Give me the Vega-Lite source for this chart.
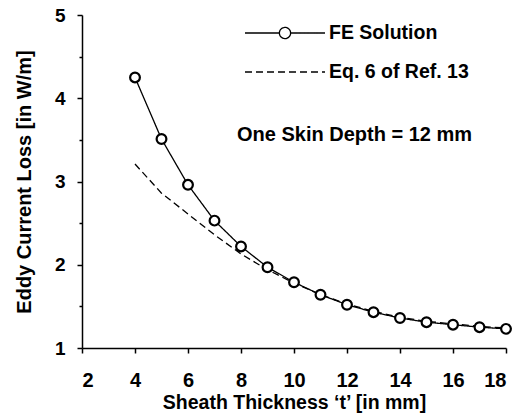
{
  "$schema": "https://vega.github.io/schema/vega-lite/v6.json",
  "width": 424,
  "height": 333,
  "autosize": {"type": "none"},
  "padding": {"left": 82, "top": 15, "right": 23, "bottom": 69},
  "background": "white",
  "config": {
    "view": {"stroke": null},
    "font": "Liberation Sans",
    "axis": {
      "domainColor": "black",
      "tickColor": "black",
      "labelColor": "black",
      "titleColor": "black",
      "grid": false,
      "labelFont": "Liberation Sans",
      "titleFont": "Liberation Sans",
      "labelFontWeight": "bold",
      "titleFontWeight": "bold",
      "domainWidth": 1.5,
      "tickWidth": 1.5
    }
  },
  "data": {
    "values": [
      {"t": 4, "loss": 4.25, "series": "FE Solution"},
      {"t": 5, "loss": 3.51, "series": "FE Solution"},
      {"t": 6, "loss": 2.96, "series": "FE Solution"},
      {"t": 7, "loss": 2.53, "series": "FE Solution"},
      {"t": 8, "loss": 2.22, "series": "FE Solution"},
      {"t": 9, "loss": 1.97, "series": "FE Solution"},
      {"t": 10, "loss": 1.79, "series": "FE Solution"},
      {"t": 11, "loss": 1.64, "series": "FE Solution"},
      {"t": 12, "loss": 1.52, "series": "FE Solution"},
      {"t": 13, "loss": 1.43, "series": "FE Solution"},
      {"t": 14, "loss": 1.36, "series": "FE Solution"},
      {"t": 15, "loss": 1.31, "series": "FE Solution"},
      {"t": 16, "loss": 1.28, "series": "FE Solution"},
      {"t": 17, "loss": 1.25, "series": "FE Solution"},
      {"t": 18, "loss": 1.23, "series": "FE Solution"},
      {"t": 4, "loss": 3.21, "series": "Eq. 6 of Ref. 13"},
      {"t": 5, "loss": 2.86, "series": "Eq. 6 of Ref. 13"},
      {"t": 6, "loss": 2.61, "series": "Eq. 6 of Ref. 13"},
      {"t": 7, "loss": 2.36, "series": "Eq. 6 of Ref. 13"},
      {"t": 8, "loss": 2.13, "series": "Eq. 6 of Ref. 13"},
      {"t": 9, "loss": 1.94, "series": "Eq. 6 of Ref. 13"},
      {"t": 10, "loss": 1.78, "series": "Eq. 6 of Ref. 13"},
      {"t": 11, "loss": 1.64, "series": "Eq. 6 of Ref. 13"},
      {"t": 12, "loss": 1.53, "series": "Eq. 6 of Ref. 13"},
      {"t": 13, "loss": 1.44, "series": "Eq. 6 of Ref. 13"},
      {"t": 14, "loss": 1.37, "series": "Eq. 6 of Ref. 13"},
      {"t": 15, "loss": 1.32, "series": "Eq. 6 of Ref. 13"},
      {"t": 16, "loss": 1.29, "series": "Eq. 6 of Ref. 13"},
      {"t": 17, "loss": 1.26, "series": "Eq. 6 of Ref. 13"},
      {"t": 18, "loss": 1.24, "series": "Eq. 6 of Ref. 13"}
    ]
  },
  "encoding": {
    "x": {
      "field": "t",
      "type": "quantitative",
      "scale": {"domain": [2, 18], "nice": false, "zero": false},
      "axis": {
        "title": "Sheath Thickness ‘t’ [in mm]",
        "values": [2, 4, 6, 8, 10, 12, 14, 16, 18],
        "tickSize": 5,
        "labelFontSize": 20,
        "titleFontSize": 19.5,
        "labelPadding": 17,
        "titlePadding": 3
      }
    },
    "y": {
      "field": "loss",
      "type": "quantitative",
      "scale": {"domain": [1, 5], "nice": false, "zero": false},
      "axis": {
        "title": "Eddy Current Loss [in W/m]",
        "values": [1, 1.5, 2, 2.5, 3, 3.5, 4, 4.5, 5],
        "labelExpr": "datum.value % 1 === 0 ? format(datum.value, 'd') : ''",
        "tickSize": {"condition": {"test": "datum.value % 1 !== 0", "value": 3}, "value": 5},
        "labelFontSize": 19,
        "titleFontSize": 20,
        "labelPadding": 12,
        "titlePadding": 20
      }
    }
  },
  "layer": [
    {
      "mark": {"type": "line", "color": "black"},
      "encoding": {
        "strokeDash": {
          "field": "series",
          "type": "nominal",
          "scale": {"domain": ["FE Solution", "Eq. 6 of Ref. 13"], "range": [[1, 0], [7, 4]]},
          "legend": {
            "title": null,
            "orient": "none",
            "legendX": 162,
            "legendY": 8,
            "padding": 0,
            "symbolSize": 6400,
            "symbolStrokeColor": "black",
            "symbolFillColor": "white",
            "symbolStrokeWidth": 1.5,
            "labelFont": "Liberation Sans",
            "labelFontSize": 19.5,
            "labelFontWeight": "bold",
            "labelColor": "black",
            "labelOffset": 3,
            "clipHeight": 20,
            "rowPadding": 19,
            "encode": {
              "symbols": {
                "update": {
                  "shape": {"signal": "datum.value === 'FE Solution' ? 'M-1,0H-0.14M0.14,0H1M0.14,0A0.14,0.14 0 1 1 -0.14,0A0.14,0.14 0 1 1 0.14,0' : 'M-1,0H1'"},
                  "strokeWidth": {"signal": "datum.value === 'FE Solution' ? 2 : 1.4"}
                }
              }
            }
          }
        },
        "strokeWidth": {
          "field": "series",
          "type": "nominal",
          "scale": {"domain": ["FE Solution", "Eq. 6 of Ref. 13"], "range": [1.3, 1.3]},
          "legend": null
        }
      }
    },
    {
      "transform": [{"filter": "datum.series === 'FE Solution'"}],
      "mark": {"type": "point", "shape": "circle", "filled": true, "fill": "white", "stroke": "black", "strokeWidth": 2.2, "size": 95, "opacity": 1}
    },
    {
      "data": {"values": [{"note": "One Skin Depth = 12 mm", "t": 7.85, "loss": 3.56}]},
      "mark": {"type": "text", "align": "left", "baseline": "middle", "font": "Liberation Sans", "fontSize": 20, "fontWeight": "bold", "fill": "black"},
      "encoding": {
        "text": {"field": "note", "type": "nominal"}
      }
    }
  ]
}
